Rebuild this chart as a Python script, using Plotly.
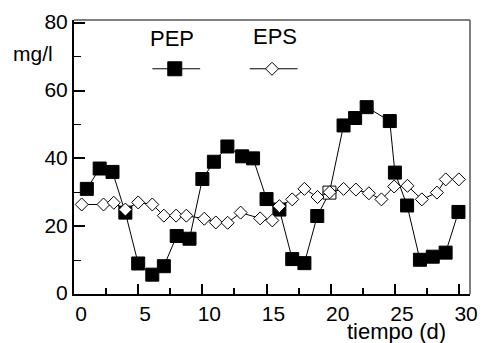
import plotly.graph_objects as go

# PEP and EPS concentrations (mg/l) over time (days)
pep_day = [1, 2, 3, 4, 5, 6.1, 7, 8, 9, 10, 10.9, 11.95, 13.1, 13.95, 15, 16, 17,
           17.95, 18.95, 19.9, 21, 21.9, 22.8, 24.6, 25, 25.95, 26.95, 27.95, 28.95, 29.95]
pep_val = [31, 37, 36, 24, 9, 5.7, 8.2, 17.1, 16.3, 33.9, 39, 43.5, 40.6, 40, 28, 24.9, 10.3,
           9.1, 23, 29.9, 49.7, 51.9, 55.1, 51, 35.8, 26.1, 10.1, 11, 12.2, 24.2]

eps_day = [0.6, 2.3, 3.1, 4, 5, 6.1, 7, 7.95, 8.75, 10.15, 11.05, 11.97, 12.98, 14.5, 15.45,
           16, 17, 17.95, 18.97, 19.92, 21, 21.96, 22.97, 23.95, 24.94, 25.98, 27.1, 28.27,
           28.96, 29.98]
eps_val = [26.4, 26.4, 26.9, 24.9, 27, 26.4, 23.1, 23.1, 23.1, 22.2, 21.1, 21, 24, 22.3, 21.7,
           25.9, 27.9, 31, 28.6, 30, 31, 30.8, 29.7, 27.9, 31.7, 31.9, 27.9, 29.9, 33.8, 33.8]

# the day-20 PEP sample is shown as an open square
pep_open = [19]

series_names = ["PEP", "EPS"]
x_title = "tiempo (d)"
y_title = "mg/l"

FONT = "Liberation Sans, Arial, sans-serif"

pep_fill = ["white" if i in pep_open else "black" for i in range(len(pep_day))]

fig = go.Figure()

fig.add_trace(go.Scatter(
    x=pep_day, y=pep_val, mode="lines+markers", name=series_names[0],
    line=dict(color="black", width=1),
    marker=dict(symbol="square", size=13, color=pep_fill,
                line=dict(color="black", width=1)),
    cliponaxis=False, showlegend=False))

fig.add_trace(go.Scatter(
    x=eps_day, y=eps_val, mode="lines+markers", name=series_names[1],
    line=dict(color="black", width=1),
    marker=dict(symbol="diamond", size=10, color="white",
                line=dict(color="black", width=1)),
    cliponaxis=False, showlegend=False))

# legend glyphs drawn on an overlay axis pair spanning the plot area (0..1)
leg_y = 0.822
for (x0, x1, xc, sym, size, fill) in [
        (0.198, 0.3186, 0.2545, "square", 14, "black"),
        (0.4438, 0.5644, 0.5, "diamond", 10, "white")]:
    fig.add_trace(go.Scatter(
        x=[x0, x1], y=[leg_y, leg_y], mode="lines", xaxis="x2", yaxis="y2",
        line=dict(color="black", width=1), showlegend=False, hoverinfo="skip"))
    fig.add_trace(go.Scatter(
        x=[xc], y=[leg_y], mode="markers", xaxis="x2", yaxis="y2",
        marker=dict(symbol=sym, size=size, color=fill,
                    line=dict(color="black", width=1)),
        showlegend=False, hoverinfo="skip"))

fig.update_layout(
    width=488, height=343,
    margin=dict(l=74, r=10, t=14, b=49),
    paper_bgcolor="white", plot_bgcolor="white",
    font=dict(family=FONT, size=21, color="black"),
    xaxis=dict(
        range=[0, 30.85], tickmode="linear", tick0=0, dtick=5,
        ticks="inside", ticklen=10, tickwidth=1.5, tickcolor="black",
        minor=dict(ticks="inside", ticklen=6, tickwidth=1.5, dtick=2.5,
                   tickcolor="black"),
        showline=True, linecolor="black", linewidth=2,
        showgrid=False, zeroline=False, ticklabelshift=7,
        tickfont=dict(size=21)),
    yaxis=dict(
        range=[0, 80.8], tickmode="linear", tick0=0, dtick=20,
        ticks="inside", ticklen=11, tickwidth=2, tickcolor="black",
        minor=dict(ticks="inside", ticklen=7, tickwidth=1, dtick=10,
                   tickcolor="black"),
        showline=True, linecolor="black", linewidth=2,
        showgrid=False, zeroline=False, tickfont=dict(size=21),
        ticklabelshift=-1),
    xaxis2=dict(overlaying="x", range=[0, 1], visible=False),
    yaxis2=dict(overlaying="y", range=[0, 1], visible=False),
    shapes=[
        dict(type="line", xref="paper", yref="paper", x0=0, x1=1, y0=1, y1=1,
             line=dict(color="#555555", width=1.5)),
        dict(type="line", xref="paper", yref="paper", x0=1, x1=1, y0=0, y1=1,
             line=dict(color="#555555", width=1.5)),
    ],
    annotations=[
        dict(text=series_names[0], xref="paper", yref="paper", x=0.247, y=0.931,
             showarrow=False, font=dict(size=22), xanchor="center", yanchor="middle"),
        dict(text=series_names[1], xref="paper", yref="paper", x=0.5079, y=0.939,
             showarrow=False, font=dict(size=22), xanchor="center", yanchor="middle"),
        dict(text=y_title, xref="paper", yref="paper", x=-0.1027, y=0.876,
             showarrow=False, font=dict(size=21), xanchor="center", yanchor="middle"),
        dict(text=x_title, xref="paper", yref="paper", x=0.815, y=-0.136,
             showarrow=False, font=dict(size=22), xanchor="center", yanchor="middle"),
    ],
)

fig.write_html("out.html")
